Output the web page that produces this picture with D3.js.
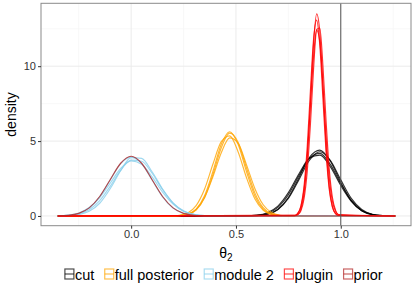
<!DOCTYPE html>
<html>
<head>
<meta charset="utf-8">
<script src="https://d3js.org/d3.v7.min.js"></script>
<style>
  body { margin: 0; background: white; }
  svg { display: block; font-family: "Liberation Sans", Arial, sans-serif; }
</style>
</head>
<body>
<svg width="415" height="291"></svg>
<script>
// ---- data ----
var methods = ["cut", "full posterior", "module 2", "plugin", "prior"];
var xTicks = [0.0, 0.5, 1.0];
var yTicks = [0, 5, 10];
var vlineAt = 1.0;
var support = [-0.35, 1.26];

// cut (black), x grid and replicate densities
var cutX = [0.55, 0.6, 0.65, 0.7, 0.75, 0.8, 0.85, 0.9, 0.95, 1.0, 1.05, 1.1, 1.15, 1.2, 1.25];
var cutY = [
  [0.003, 0.02, 0.11, 0.43, 1.23, 2.54, 3.90, 4.40, 3.67, 2.24, 1.02, 0.34, 0.08, 0.015, 0.002],
  [0.007, 0.04, 0.17, 0.57, 1.42, 2.68, 3.84, 4.18, 3.44, 2.15, 1.02, 0.37, 0.10, 0.02, 0.003],
  [0.004, 0.023, 0.115, 0.43, 1.17, 2.41, 3.71, 4.29, 3.71, 2.41, 1.17, 0.43, 0.115, 0.023, 0.004],
  [0.01, 0.055, 0.22, 0.66, 1.56, 2.80, 3.85, 4.06, 3.29, 2.03, 0.97, 0.35, 0.10, 0.02, 0.003]
];

// full posterior (orange)
var fullX = [0.19, 0.23, 0.27, 0.31, 0.35, 0.39, 0.43, 0.47, 0.51, 0.55, 0.59, 0.63, 0.67, 0.71, 0.75];
var fullY = [
  [0.002, 0.019, 0.105, 0.45, 1.35, 2.97, 4.79, 5.62, 4.79, 2.97, 1.35, 0.45, 0.105, 0.019, 0.002],
  [0.007, 0.043, 0.20, 0.69, 1.78, 3.45, 4.96, 5.35, 4.29, 2.57, 1.15, 0.38, 0.10, 0.018, 0.003],
  [0.004, 0.024, 0.12, 0.43, 1.22, 2.62, 4.22, 5.21, 4.86, 3.43, 1.84, 0.75, 0.23, 0.05, 0.01],
  [0.002, 0.017, 0.10, 0.40, 1.22, 2.76, 4.56, 5.53, 4.92, 3.22, 1.54, 0.55, 0.14, 0.03, 0.004]
];

// module 2 (sky blue)
var modX = [-0.35, -0.3, -0.25, -0.2, -0.15, -0.1, -0.05, 0, 0.05, 0.1, 0.15, 0.2, 0.25, 0.3, 0.35];
var modY = [
  [0.01, 0.04, 0.17, 0.53, 1.28, 2.40, 3.50, 3.95, 3.50, 2.40, 1.28, 0.53, 0.17, 0.04, 0.01],
  [0.008, 0.036, 0.14, 0.42, 1.02, 1.98, 3.04, 3.73, 3.65, 2.85, 1.76, 0.88, 0.35, 0.11, 0.03],
  [0.004, 0.02, 0.09, 0.31, 0.85, 1.82, 3.02, 3.90, 3.85, 2.95, 1.80, 0.86, 0.32, 0.09, 0.02],
  [0.015, 0.06, 0.20, 0.56, 1.23, 2.19, 3.17, 3.68, 3.45, 2.61, 1.59, 0.79, 0.31, 0.10, 0.03]
];

// plugin (red)
var plugX = [0.78, 0.795, 0.81, 0.825, 0.84, 0.855, 0.87, 0.885, 0.9, 0.915, 0.93, 0.945, 0.96, 0.975, 0.99];
var plugY = [
  [0.02, 0.10, 0.45, 1.49, 3.82, 7.50, 11.46, 13.49, 12.27, 8.61, 4.68, 1.96, 0.64, 0.16, 0.03],
  [0.02, 0.09, 0.35, 1.17, 2.98, 6.06, 9.77, 12.45, 12.55, 10.00, 6.32, 3.14, 1.25, 0.39, 0.10],
  [0.04, 0.18, 0.68, 2.03, 4.64, 8.33, 11.77, 13.08, 11.38, 7.80, 4.20, 1.77, 0.59, 0.15, 0.03],
  [0.04, 0.18, 0.63, 1.79, 4.05, 7.33, 10.64, 12.41, 11.63, 8.73, 5.28, 2.56, 0.99, 0.31, 0.08]
];

// prior (dark red)
var priorX = [-0.35, -0.3, -0.25, -0.2, -0.15, -0.1, -0.05, 0, 0.05, 0.1, 0.15, 0.2, 0.25, 0.3, 0.35];
var priorY = [
  [0.009, 0.044, 0.175, 0.54, 1.30, 2.42, 3.52, 3.99, 3.52, 2.42, 1.30, 0.54, 0.175, 0.044, 0.009]
];

var colors = {"cut": "#000000", "full posterior": "#FFA500", "module 2": "#87CEEB",
              "plugin": "#FF0000", "prior": "#B22222"};

// ---- layout ----
var svg = d3.select("svg");
var pLeft = 41, pRight = 411, pTop = 3.3, pBottom = 225.7;

var x = d3.scaleLinear().domain([-0.43, 1.335]).range([pLeft, pRight]);
var y = d3.scaleLinear().domain([-0.65, 14.2]).range([pBottom, pTop]);

svg.append("rect").attr("width", 415).attr("height", 291).attr("fill", "white");

// grid
var g = svg.append("g");
var minorX = [-0.25, 0.25, 0.75, 1.25];
var minorY = [2.5, 7.5, 12.5];
g.selectAll(".mx").data(minorX).enter().append("line")
  .attr("x1", d => x(d)).attr("x2", d => x(d)).attr("y1", pTop).attr("y2", pBottom)
  .attr("stroke", "#f5f5f5").attr("stroke-width", 0.7);
g.selectAll(".my").data(minorY).enter().append("line")
  .attr("y1", d => y(d)).attr("y2", d => y(d)).attr("x1", pLeft).attr("x2", pRight)
  .attr("stroke", "#f5f5f5").attr("stroke-width", 0.7);
g.selectAll(".gx").data(xTicks).enter().append("line")
  .attr("x1", d => x(d)).attr("x2", d => x(d)).attr("y1", pTop).attr("y2", pBottom)
  .attr("stroke", "#ebebeb").attr("stroke-width", 1);
g.selectAll(".gy").data(yTicks).enter().append("line")
  .attr("y1", d => y(d)).attr("y2", d => y(d)).attr("x1", pLeft).attr("x2", pRight)
  .attr("stroke", "#ebebeb").attr("stroke-width", 1);

// curves
var line = d3.line().x(d => x(d[0])).y(d => y(d[1])).curve(d3.curveMonotoneX);
function build(xs, ys) {
  var pts = xs.map((v, i) => [v, ys[i]]);
  if (xs[0] > support[0]) pts.unshift([support[0], 0]);
  if (xs[xs.length - 1] < support[1]) pts.push([support[1], 0]);
  return pts;
}
var series = [
  ["cut", cutX, cutY], ["full posterior", fullX, fullY], ["module 2", modX, modY],
  ["plugin", plugX, plugY], ["prior", priorX, priorY]
];
var curves = svg.append("g");
series.forEach(function(s) {
  curves.selectAll(null).data(s[2]).enter().append("path")
    .attr("d", d => line(build(s[1], d)))
    .attr("fill", "none")
    .attr("stroke", colors[s[0]])
    .attr("stroke-opacity", 0.8)
    .attr("stroke-width", 1.15);
});

// vertical reference line
svg.append("line")
  .attr("x1", x(vlineAt)).attr("x2", x(vlineAt)).attr("y1", pTop).attr("y2", pBottom)
  .attr("stroke", "#555").attr("stroke-width", 1);

// panel border
svg.append("rect")
  .attr("x", pLeft).attr("y", pTop).attr("width", pRight - pLeft).attr("height", pBottom - pTop)
  .attr("fill", "none").attr("stroke", "#8a8a8a").attr("stroke-width", 1);

// axes
var xAxis = svg.append("g").attr("transform", "translate(0," + pBottom + ")")
  .call(d3.axisBottom(x).tickValues(xTicks).tickFormat(d3.format(".1f")).tickSize(3).tickPadding(2));
var yAxis = svg.append("g").attr("transform", "translate(" + pLeft + ",0)")
  .call(d3.axisLeft(y).tickValues(yTicks).tickSize(3).tickPadding(2));
[xAxis, yAxis].forEach(function(a) {
  a.select(".domain").remove();
  a.selectAll(".tick line").attr("stroke", "#333");
  a.selectAll(".tick text").attr("fill", "#333").style("font-size", "11px")
    .style("font-family", "Liberation Sans, Arial, sans-serif");
});

// axis titles
var xt = svg.append("text").attr("x", (pLeft + pRight) / 2).attr("y", 258)
  .attr("text-anchor", "middle").style("font-size", "14px").attr("fill", "#000");
xt.append("tspan").text("θ");
xt.append("tspan").attr("dy", 3).style("font-size", "10px").text("2");

svg.append("text").attr("transform", "translate(16," + ((pTop + pBottom) / 2) + ") rotate(-90)")
  .attr("text-anchor", "middle").style("font-size", "14px").text("density");

// legend
var leg = svg.append("g");
var lx = 0;
methods.forEach(function(m) {
  var it = leg.append("g").attr("transform", "translate(" + lx + ",0)");
  it.append("rect").attr("x", 0.5).attr("y", 269).attr("width", 9).attr("height", 10)
    .attr("fill", "white").attr("stroke", colors[m]).attr("stroke-opacity", 0.7).attr("stroke-width", 1.2);
  it.append("line").attr("x1", 0.5).attr("x2", 9.5).attr("y1", 274).attr("y2", 274)
    .attr("stroke", colors[m]).attr("stroke-opacity", 0.7).attr("stroke-width", 1.2);
  var t = it.append("text").attr("x", 10.5).attr("y", 279.5).style("font-size", "14.5px").text(m);
  lx += 10.5 + t.node().getComputedTextLength() + 10;
});
var legW = lx - 10;
leg.attr("transform", "translate(" + (223.5 - legW / 2) + ",0)");
</script>
</body>
</html>
